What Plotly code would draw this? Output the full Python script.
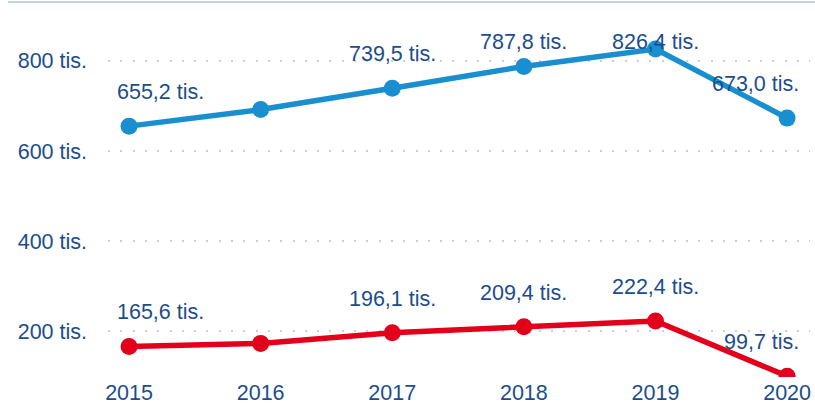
import plotly.graph_objects as go

years = [2015, 2016, 2017, 2018, 2019, 2020]
blue_values = [655.2, 692.0, 739.5, 787.8, 826.4, 673.0]
red_values = [165.6, 172.5, 196.1, 209.4, 222.4, 99.7]
blue_labels = ["655,2 tis.", None, "739,5 tis.", "787,8 tis.", "826,4 tis.", "673,0 tis."]
red_labels = ["165,6 tis.", None, "196,1 tis.", "209,4 tis.", "222,4 tis.", "99,7 tis."]
y_ticks = [200, 400, 600, 800]
y_tick_text = ["200 tis.", "400 tis.", "600 tis.", "800 tis."]

BLUE = "#1a8fd0"
RED = "#e2001a"
TEXT = "#1b4d8c"
FONT = "Liberation Sans, Arial, sans-serif"
FS = 21.5

W, H = 815, 412
ML, MR, MT, MB = 108, 5, 2, 35
Y_RANGE = [97.8, 931.0]
X_RANGE = [2014.84, 2020.174]

fig = go.Figure()
for vals, col in [(blue_values, BLUE), (red_values, RED)]:
    fig.add_trace(go.Scatter(
        x=years, y=vals, mode="lines+markers",
        line=dict(color=col, width=5.5),
        marker=dict(color=col, size=17),
        showlegend=False, hoverinfo="skip",
    ))

plot_h = H - MT - MB
def pix(v):
    return MT + (Y_RANGE[1] - v) / (Y_RANGE[1] - Y_RANGE[0]) * plot_h

annotations = []
for vals, labels in [(blue_values, blue_labels), (red_values, red_labels)]:
    for i, (yr, v, lab) in enumerate(zip(years, vals, labels)):
        if lab is None:
            continue
        p = pix(v)
        shift = min(34, p - 42)
        if i == 0:
            xanchor, xshift = "left", -14
        elif i == len(years) - 1:
            xanchor, xshift = "right", 14
        else:
            xanchor, xshift = "center", 0
        annotations.append(dict(
            x=yr, y=v, text=lab, showarrow=False,
            xanchor=xanchor, yanchor="middle", xshift=xshift, yshift=shift,
            font=dict(family=FONT, size=FS, color=TEXT),
        ))

fig.update_layout(
    width=W, height=H,
    margin=dict(l=ML, r=MR, t=MT, b=MB),
    paper_bgcolor="white", plot_bgcolor="white",
    annotations=annotations,
    shapes=[dict(type="line", xref="paper", yref="paper",
                 x0=-100 / (W - ML - MR), x1=1.01, y0=1.0, y1=1.0,
                 line=dict(color="#c5d3e3", width=2))],
    xaxis=dict(
        range=X_RANGE, tickvals=years, ticktext=[str(y) for y in years],
        showgrid=False, zeroline=False, showline=False,
        tickfont=dict(family=FONT, size=FS, color=TEXT),
    ),
    yaxis=dict(
        range=Y_RANGE, tickvals=y_ticks, ticktext=y_tick_text,
        showgrid=True, gridcolor="#cfcfcf", gridwidth=2, griddash="2px,10.3px",
        zeroline=False, showline=False, ticklabelstandoff=20,
        tickfont=dict(family=FONT, size=FS, color=TEXT),
    ),
)

fig.write_html("out.html")
